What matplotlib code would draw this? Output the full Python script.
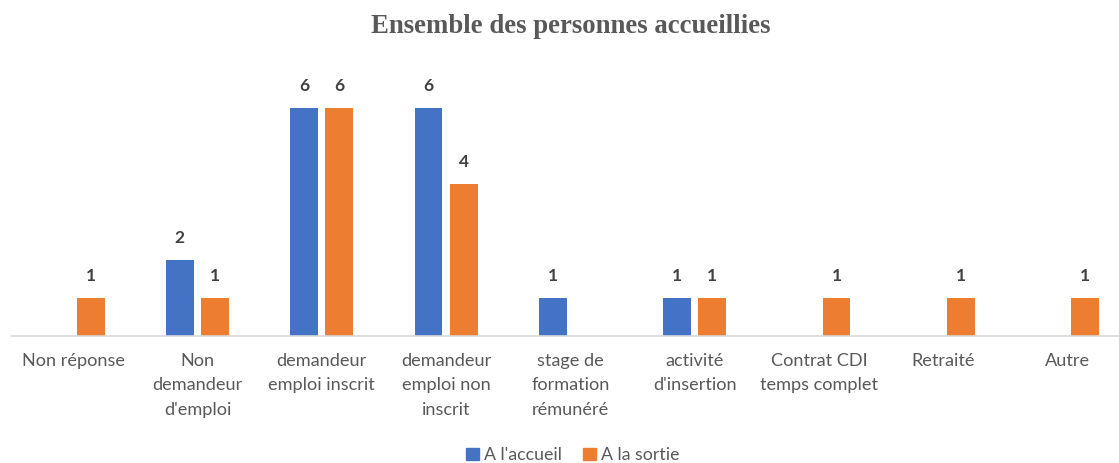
import numpy as np
import matplotlib.pyplot as plt

# categories and counts
categories = ["Non réponse", "Non\ndemandeur\nd'emploi", "demandeur\nemploi inscrit",
              "demandeur\nemploi non\ninscrit", "stage de\nformation\nrémunéré",
              "activité\nd'insertion", "Contrat CDI\ntemps complet", "Retraité", "Autre"]
accueil = [0, 2, 6, 6, 1, 1, 0, 0, 0]
sortie = [1, 1, 6, 4, 0, 1, 1, 1, 1]
series_names = ["A l'accueil", "A la sortie"]

blue = "#4472C4"
orange = "#ED7D31"
grey_txt = "#595959"

fig = plt.figure(figsize=(11.19, 4.63), dpi=100)
W, H = 1119, 463
# axes in pixel terms: baseline at y=336, 38 px per unit, 124.3 px per category
ax = fig.add_axes([11 / W, (H - 336) / H, 9 * 124.3 / W, 266 / H])

x = np.arange(len(categories))
bw = 0.224
off = 0.1416

# skip zero bars (no mark drawn in the reference)
for vals, sign, col in [(accueil, -1, blue), (sortie, 1, orange)]:
    v = np.array(vals, dtype=float)
    mask = v > 0
    ax.bar(x[mask] + sign * off, v[mask], width=bw, color=col, zorder=2)
    for xi, vi in zip(x[mask], v[mask]):
        ax.text(xi + sign * off, vi + 0.58, "%d" % vi, ha="center", va="center",
                fontsize=12.5, fontweight="bold", color="#404040", family="Lato")

ax.set_xlim(-0.5, len(categories) - 0.5)
ax.set_ylim(0, 7)
for s in ["top", "left", "right"]:
    ax.spines[s].set_visible(False)
ax.spines["bottom"].set_color("#D9D9D9")
ax.spines["bottom"].set_linewidth(1.2)
ax.set_yticks([])
ax.set_xticks(x)
ax.set_xticklabels(categories, fontsize=13.1, color=grey_txt, family="Lato",
                   linespacing=1.65, va="top")
ax.tick_params(axis="x", length=0, pad=12)

fig.text(0.51, 0.942, "Ensemble des personnes accueillies", ha="center", va="center",
         fontsize=19.3, fontweight="bold", color=grey_txt, family="Liberation Serif")

# legend at the bottom
handles = [plt.Rectangle((0, 0), 1, 1, color=blue), plt.Rectangle((0, 0), 1, 1, color=orange)]
fig.legend(handles, series_names, loc="center", bbox_to_anchor=(573 / W, 1 - 455 / H),
           ncol=2, frameon=False, handlelength=0.7, handleheight=0.7, handletextpad=0.3,
           columnspacing=1.2, prop={"family": "Lato", "size": 12.8}, labelcolor=grey_txt)

fig.savefig("out.png", dpi=100)
